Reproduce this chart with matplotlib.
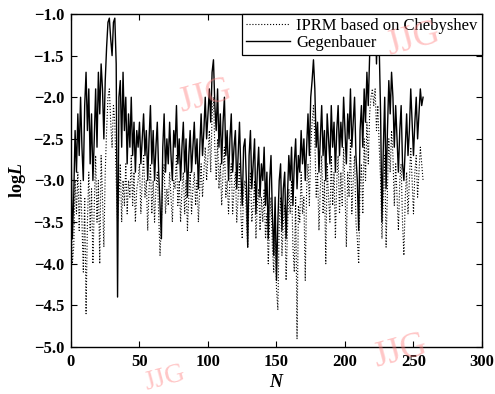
import numpy as np
import matplotlib
matplotlib.use("Agg")
import matplotlib.pyplot as plt

plt.rcParams['font.family'] = ['Liberation Serif', 'DejaVu Serif']
plt.rcParams['mathtext.fontset'] = 'custom'
plt.rcParams['mathtext.it'] = 'Liberation Serif:italic:bold'
plt.rcParams['mathtext.rm'] = 'Liberation Serif:bold'
plt.rcParams['axes.unicode_minus'] = True

gegenbauer = [
    -2.5, -3.7, -3.2, -2.4, -2.9, -2.2, -2.7, -2.0, -2.6, -3.0,
    -2.1, -1.7, -2.4, -1.9, -2.8, -2.2, -3.0, -2.5, -1.9, -2.6,
    -1.7, -2.2, -1.6, -1.9, -2.5, -1.8, -1.4, -1.1, -1.05, -1.3,
    -1.5, -1.1, -1.05, -1.6, -4.4, -2.0, -1.8, -2.6, -1.7, -2.4,
    -2.0, -2.8, -2.2, -2.6, -2.0, -2.7, -2.3, -2.9, -2.4, -2.6,
    -2.3, -2.8, -2.5, -2.2, -2.7, -2.4, -3.0, -2.5, -2.1, -2.8,
    -2.4, -3.0, -2.6, -2.3, -2.9, -3.3, -3.7, -2.6, -2.2, -2.9,
    -2.5, -2.8, -2.3, -2.7, -3.0, -2.4, -2.6, -2.1, -2.8, -2.5,
    -3.0, -2.6, -2.3, -2.9, -2.5, -3.2, -2.7, -2.4, -2.9, -2.6,
    -2.3, -2.8, -2.5, -3.1, -2.6, -2.2, -2.7, -2.4, -2.0, -2.5,
    -2.2, -1.9, -2.3, -1.7, -1.55, -2.1, -2.4, -1.9, -2.6, -2.2,
    -2.8, -2.3, -2.0, -2.7, -2.4, -3.0, -2.5, -2.2, -2.9, -2.6,
    -2.4, -3.1, -2.7, -2.3, -2.9, -3.3, -2.6, -2.5, -3.0, -3.8,
    -2.7, -2.4, -3.1, -2.8, -2.5, -3.4, -2.9, -2.6, -3.2, -2.8,
    -3.0, -2.6, -3.3, -2.9, -3.7, -3.0, -2.7, -3.4, -3.9, -3.2,
    -4.2, -3.5, -3.0, -2.8, -3.6, -3.1, -2.9, -3.7, -3.2, -2.7,
    -3.0, -2.6, -3.3, -2.8, -2.5, -3.1, -2.7, -2.9, -2.4, -2.8,
    -2.5, -3.0, -2.6, -2.2, -2.7, -2.0, -1.8, -1.55, -1.9, -2.6,
    -2.3, -2.9, -2.5, -2.1, -2.7, -2.4, -3.0, -2.2, -2.5, -2.8,
    -2.1, -2.6, -2.3, -2.9, -2.4, -2.1, -2.7, -2.3, -2.6, -2.0,
    -2.4, -2.8, -2.2, -2.5, -1.9, -2.6, -2.3, -2.0, -2.7, -3.0,
    -3.6, -2.4, -2.1, -2.6, -1.9, -2.3, -1.7, -2.1, -1.5, -1.2,
    -1.0, -1.3, -0.9, -1.6, -1.0, -1.4, -2.2, -3.5, -2.6, -2.0,
    -3.1, -2.4, -1.8, -2.2, -1.7, -2.0, -2.6, -2.1, -2.5, -2.9,
    -2.4, -2.1, -2.8, -3.0, -2.6, -2.2, -2.7, -2.4, -1.9, -2.3,
    -2.7, -2.3, -2.0, -2.5, -2.2, -1.9, -2.1, -2.0,
]

chebyshev = [
    -2.6, -4.0, -3.8, -3.0, -3.4, -2.9, -3.6, -3.0, -3.5, -4.1,
    -3.2, -4.6, -3.5, -2.9, -3.6, -3.1, -4.0, -3.3, -2.7, -3.5,
    -3.0, -4.0, -2.7, -3.2, -3.8, -2.9, -2.4, -2.0, -1.9, -2.3,
    -2.6, -2.1, -2.3, -3.0, -3.5, -3.2, -2.8, -3.5, -3.0, -3.3,
    -2.8, -3.4, -3.0, -3.2, -2.7, -3.3, -2.9, -3.5, -3.1, -3.0,
    -2.8, -3.4, -3.0, -2.7, -3.2, -3.0, -3.6, -3.1, -2.8, -3.4,
    -3.0, -3.5, -3.1, -2.9, -3.4, -3.9, -3.5, -3.0, -2.8, -3.4,
    -3.1, -3.3, -2.9, -3.2, -3.5, -3.0, -3.1, -2.7, -3.3, -3.0,
    -3.5, -3.1, -2.9, -3.4, -3.0, -3.6, -3.2, -2.9, -3.4, -3.1,
    -2.9, -3.3, -3.0, -3.5, -3.1, -2.8, -3.2, -2.9, -2.6, -3.0,
    -2.7, -2.4, -2.9, -2.2, -2.0, -2.6, -3.0, -2.5, -3.1, -2.8,
    -3.3, -2.9, -2.6, -3.2, -3.0, -3.4, -3.0, -2.8, -3.4, -3.1,
    -2.9, -3.5, -3.2, -2.8, -3.4, -3.7, -3.1, -3.0, -3.4, -3.8,
    -3.2, -2.9, -3.5, -3.3, -3.0, -3.7, -3.3, -3.1, -3.6, -3.2,
    -3.5, -3.1, -3.7, -3.4, -4.0, -3.5, -3.2, -3.8, -4.1, -3.6,
    -4.3, -4.55, -3.5, -3.2, -3.9, -3.5, -3.3, -4.2, -3.6, -3.1,
    -3.4, -3.0, -3.8, -4.1, -3.2, -4.9, -3.3, -3.5, -2.9, -3.4,
    -3.2, -4.2, -3.1, -2.8, -3.3, -2.6, -2.3, -2.1, -2.5, -3.2,
    -2.9, -3.6, -3.1, -2.7, -3.4, -3.0, -4.0, -2.8, -3.2, -3.5,
    -2.7, -3.3, -2.9, -3.7, -3.0, -2.7, -3.4, -2.9, -3.3, -2.6,
    -3.1, -3.8, -2.9, -3.2, -2.5, -3.4, -3.0, -2.7, -3.5, -3.7,
    -4.0, -3.1, -2.8, -3.4, -2.5, -3.0, -2.3, -2.8, -2.2, -2.0,
    -1.9, -2.1, -1.9, -2.4, -2.1, -2.6, -3.0, -3.7, -3.2, -2.7,
    -3.8, -3.1, -2.5, -2.9, -2.4, -2.7, -3.3, -2.8, -3.2, -3.6,
    -3.0, -2.8, -3.5, -3.9, -3.2, -2.9, -3.4, -3.0, -2.6, -3.0,
    -3.4, -2.9, -2.7, -3.2, -2.9, -2.6, -2.8, -3.0,
]

xticks = [0, 50, 100, 150, 200, 250, 300]
yticks = [-5.0, -4.5, -4.0, -3.5, -3.0, -2.5, -2.0, -1.5, -1.0]

n_cheb = np.arange(len(chebyshev))
n_gege = np.arange(len(gegenbauer))

fig = plt.figure(figsize=(4.95, 3.94), dpi=100)
ax = fig.add_axes([0.1434, 0.1193, 0.8303, 0.8452])

ax.plot(n_cheb, chebyshev, color='black', linestyle=':', linewidth=0.8,
        label='IPRM based on Chebyshev')
ax.plot(n_gege, gegenbauer, color='black', linestyle='-', linewidth=1.0,
        label='Gegenbauer')

ax.set_xlim(0, 300)
ax.set_ylim(-5.0, -1.0)
ax.set_xticks(xticks)
ax.set_yticks(yticks)
ax.set_yticklabels(['\u2212%.1f' % abs(v) for v in yticks])
ax.tick_params(direction='in', top=True, right=True, length=4, width=0.8,
               labelsize=12, pad=5)
for lab in ax.get_xticklabels() + ax.get_yticklabels():
    lab.set_fontweight('bold')
for s in ax.spines.values():
    s.set_linewidth(1.0)

ax.set_xlabel(r'$N$', fontsize=13, labelpad=3)
ax.set_ylabel(r'$\mathrm{log}L$', fontsize=13, labelpad=4)

leg = ax.legend(loc='upper right', fontsize=12, frameon=True, fancybox=False,
                edgecolor='black', borderpad=0.25, handlelength=2.6,
                labelspacing=0.05, borderaxespad=0.0, handletextpad=0.4)
leg.get_frame().set_linewidth(0.9)
leg.get_frame().set_alpha(1.0)

wm = dict(color='#ff8080', alpha=0.45, fontsize=26, rotation=15,
          ha='center', va='center', family='Liberation Serif')
fig.text(205 / 495, 1 - 97 / 394, 'JJG', **wm)
fig.text(413 / 495, 1 - 40 / 394, 'JJG', **wm)
fig.text(400 / 495, 1 - 352 / 394, 'JJG', **wm)
fig.text(165 / 495, 1 - 378 / 394, 'JJG', color='#ff8080', alpha=0.45,
         fontsize=20, rotation=15, ha='center', va='center',
         family='Liberation Serif')

fig.savefig('out.png', dpi=100)
